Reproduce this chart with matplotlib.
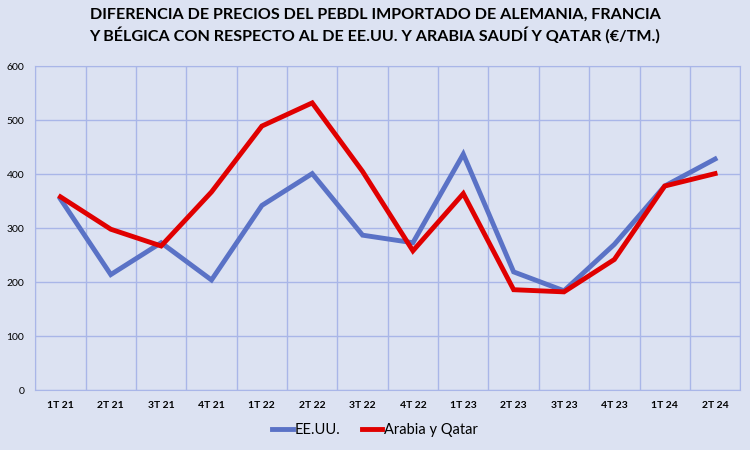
import matplotlib
matplotlib.use("Agg")
import matplotlib.pyplot as plt
import numpy as np

plt.rcParams['font.family'] = ['Lato', 'DejaVu Sans']

# Datos
trimestres = ["1T 21", "2T 21", "3T 21", "4T 21", "1T 22", "2T 22", "3T 22",
              "4T 22", "1T 23", "2T 23", "3T 23", "4T 23", "1T 24", "2T 24"]
eeuu = [354, 214, 273, 204, 342, 401, 287, 273, 437, 219, 184, 270, 378, 428]
arabia_qatar = [358, 298, 267, 367, 489, 532, 405, 258, 364, 186, 182, 242, 378, 401]

fondo = '#dce2f2'
rejilla = '#a9b6e8'

fig = plt.figure(figsize=(7.5, 4.5), dpi=100)
fig.patch.set_facecolor(fondo)
ax = fig.add_axes([0.047, 0.133, 0.94, 0.72])
ax.set_facecolor(fondo)

x = np.arange(len(trimestres))
ax.plot(x, eeuu, color='#5a72c6', lw=3.5, label='EE.UU.', solid_joinstyle='miter')
ax.plot(x, arabia_qatar, color='#e00000', lw=3.5, label='Arabia y Qatar', solid_joinstyle='miter')

ax.set_xlim(-0.5, len(trimestres) - 0.5)
ax.set_ylim(0, 600)
ax.set_yticks(range(0, 601, 100))
ax.set_xticks(x)
ax.set_xticklabels(trimestres, fontsize=7.5, fontweight='bold')
ax.set_xticks(np.arange(-0.5, len(trimestres)), minor=True)
ax.tick_params(axis='y', labelsize=7.5, length=0, pad=8)
ax.tick_params(axis='x', which='major', length=0, pad=8)
ax.tick_params(axis='x', which='minor', length=0)

ax.grid(True, axis='y', color=rejilla, lw=1)
ax.grid(True, axis='x', which='minor', color=rejilla, lw=1)
ax.set_axisbelow(True)
for s in ax.spines.values():
    s.set_color(rejilla)

fig.suptitle("DIFERENCIA DE PRECIOS DEL PEBDL IMPORTADO DE ALEMANIA, FRANCIA\n"
             "Y BÉLGICA CON RESPECTO AL DE EE.UU. Y ARABIA SAUDÍ Y QATAR (€/TM.)",
             fontsize=11.6, fontweight='bold', y=0.982, linespacing=1.35)

fig.legend(loc='lower center', bbox_to_anchor=(0.5, 0.0), ncol=2, frameon=False,
           fontsize=10.5, handlelength=1.4, handletextpad=0.1, columnspacing=1.5)

fig.savefig("out.png", dpi=100, facecolor=fondo)
